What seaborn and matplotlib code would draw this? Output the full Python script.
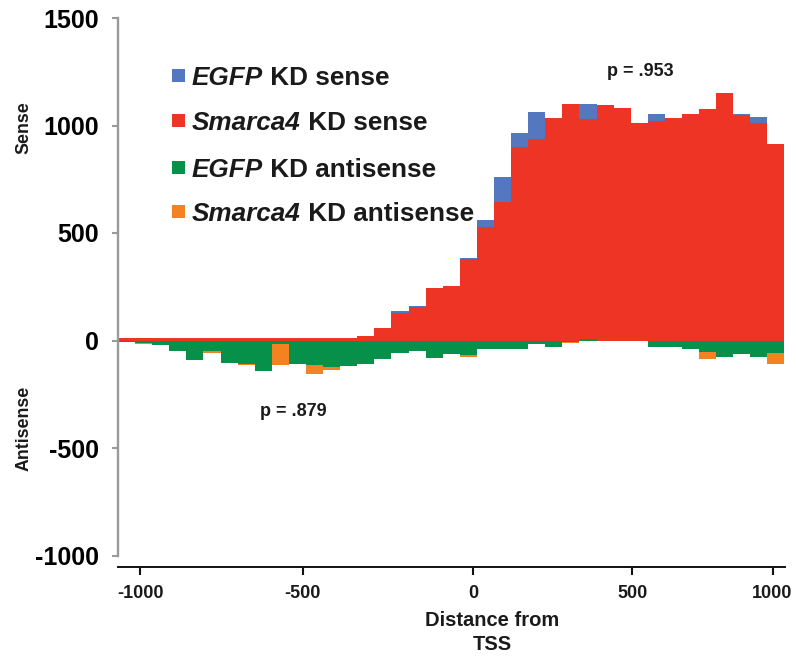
import numpy as np
import pandas as pd
import matplotlib
matplotlib.use("Agg")
import matplotlib.pyplot as plt
import seaborn as sns
from matplotlib.patches import Rectangle

# ---------------- data (39 bins of distance from TSS) ----------------
bin_index = list(range(39))

egfp_sense = [10, 10, 10, 10, 10, 10, 10, 10, 10, 10, 10, 10, 10, 12, 21, 57,
              139, 160, 243, 255, 385, 560, 762, 964, 1061, 1033, 1100, 1098,
              1095, 1081, 1013, 1053, 1033, 1055, 1075, 1151, 1055, 1041, 915]
smarca4_sense = [10, 10, 10, 10, 10, 10, 10, 10, 10, 10, 10, 10, 10, 12, 21, 57,
                 126, 157, 243, 255, 379, 526, 646, 902, 937, 1033, 1100, 1029,
                 1095, 1081, 1013, 1021, 1033, 1055, 1075, 1151, 1049, 1013, 915]
egfp_antisense = [-5, -10, -21, -49, -91, -49, -106, -109, -140, -14, -109, -115,
                  -124, -117, -111, -86, -56, -49, -83, -65, -69, -41, -41, -41,
                  -16, -29, -5, 8, -2, -2, -2, -29, -29, -41, -52, -76, -64, -76, -57]
smarca4_antisense = [-5, -16, -21, -49, -91, -60, -106, -112, -140, -112, -109, -158,
                     -135, -117, -111, -86, -56, -49, -83, -65, -75, -41, -41, -41,
                     -16, -29, -13, -4, -2, -2, -2, -29, -29, -41, -84, -76, -64, -76, -111]

xtick_pos = [1.3, 10.8, 20.8, 30.1, 38.3]
xtick_labels = ["-1000", "-500", "0", "500", "1000"]
yticks = [-1000, -500, 0, 500, 1000, 1500]

series = [
    ("EGFP", " KD sense", egfp_sense, "#5577C0"),
    ("Smarca4", " KD sense", smarca4_sense, "#EE3425"),
    ("EGFP", " KD antisense", egfp_antisense, "#07904A"),
    ("Smarca4", " KD antisense", smarca4_antisense, "#F58220"),
]
draw_order = [0, 1, 3, 2]

# ---------------- style ----------------
sns.set_style("white")
plt.rcParams["font.family"] = ["Liberation Sans", "DejaVu Sans"]
plt.rcParams["font.weight"] = "bold"
TXT = "#1a1a1a"

W, H = 796, 657
fig = plt.figure(figsize=(W / 100, H / 100), dpi=100)
ax = fig.add_axes([118 / W, 1 - 555.5 / H, 667 / W, (555.5 - 18) / H])

nb = len(bin_index)
for k in draw_order:
    _, _, vals, col = series[k]
    df = pd.DataFrame({"pos": np.array(bin_index) + 0.5, "value": vals})
    sns.histplot(data=df, x="pos", weights="value", binwidth=1, binrange=(0, nb),
                 element="step", fill=True, color=col, alpha=1, linewidth=0, ax=ax)

ax.set_xlim(0, 39.03)
ax.set_ylim(-1000, 1500)
ax.set_ylabel("")

for s in ["top", "right"]:
    ax.spines[s].set_visible(False)
ax.spines["left"].set_color("#9a9a9a")
ax.spines["left"].set_linewidth(1.7)
ax.spines["bottom"].set_color("#111111")
ax.spines["bottom"].set_linewidth(1.4)
ax.spines["bottom"].set_position(("outward", 8))

ax.set_yticks(yticks)
ax.set_yticklabels([str(v) for v in yticks], fontsize=18, fontweight="bold", color="black")
ax.tick_params(axis="y", direction="out", length=4.5, width=1.5, color="#9a9a9a",
               pad=9, left=True)
ax.set_xticks(xtick_pos)
ax.set_xticklabels(xtick_labels, fontsize=13, fontweight="bold", color=TXT)
ax.tick_params(axis="x", direction="out", length=6, width=1.5, color="#111111",
               pad=7, bottom=True)

ax.set_xlabel("Distance from\nTSS", fontsize=14.5, fontweight="bold",
              linespacing=1.35, color=TXT)
ax.xaxis.set_label_coords((492 - 118) / 667, -0.103)

# side labels
fig.text(24 / W, 1 - 128 / H, "Sense", rotation=90, ha="center", va="center",
         fontsize=12.8, fontweight="bold", color=TXT)
fig.text(24 / W, 1 - 428 / H, "Antisense", rotation=90, ha="center", va="center",
         fontsize=12.8, fontweight="bold", color=TXT)

# p values
fig.text(640 / W, 1 - 72 / H, "p = .953", ha="center", va="center",
         fontsize=13, fontweight="bold", color=TXT)
fig.text(293 / W, 1 - 411 / H, "p = .879", ha="center", va="center",
         fontsize=13, fontweight="bold", color=TXT)

# legend (manual, for bold-italic gene names)
baselines = [85, 130, 177, 221]
for (gene, rest, _, col), yb in zip(series, baselines):
    sq = Rectangle((172 / W, 1 - (yb - 3) / H), 13 / W, 13 / H,
                   transform=fig.transFigure, color=col, lw=0)
    fig.patches.append(sq)
    t1 = fig.text(192 / W, 1 - yb / H, gene, fontsize=18.8, fontweight="bold",
                  fontstyle="italic", va="baseline", ha="left", color=TXT)
    ax.annotate(rest, xy=(1, 0), xycoords=t1, va="bottom", ha="left",
                fontsize=18.8, fontweight="bold", color=TXT,
                annotation_clip=False)

fig.savefig("out.png", dpi=100)
